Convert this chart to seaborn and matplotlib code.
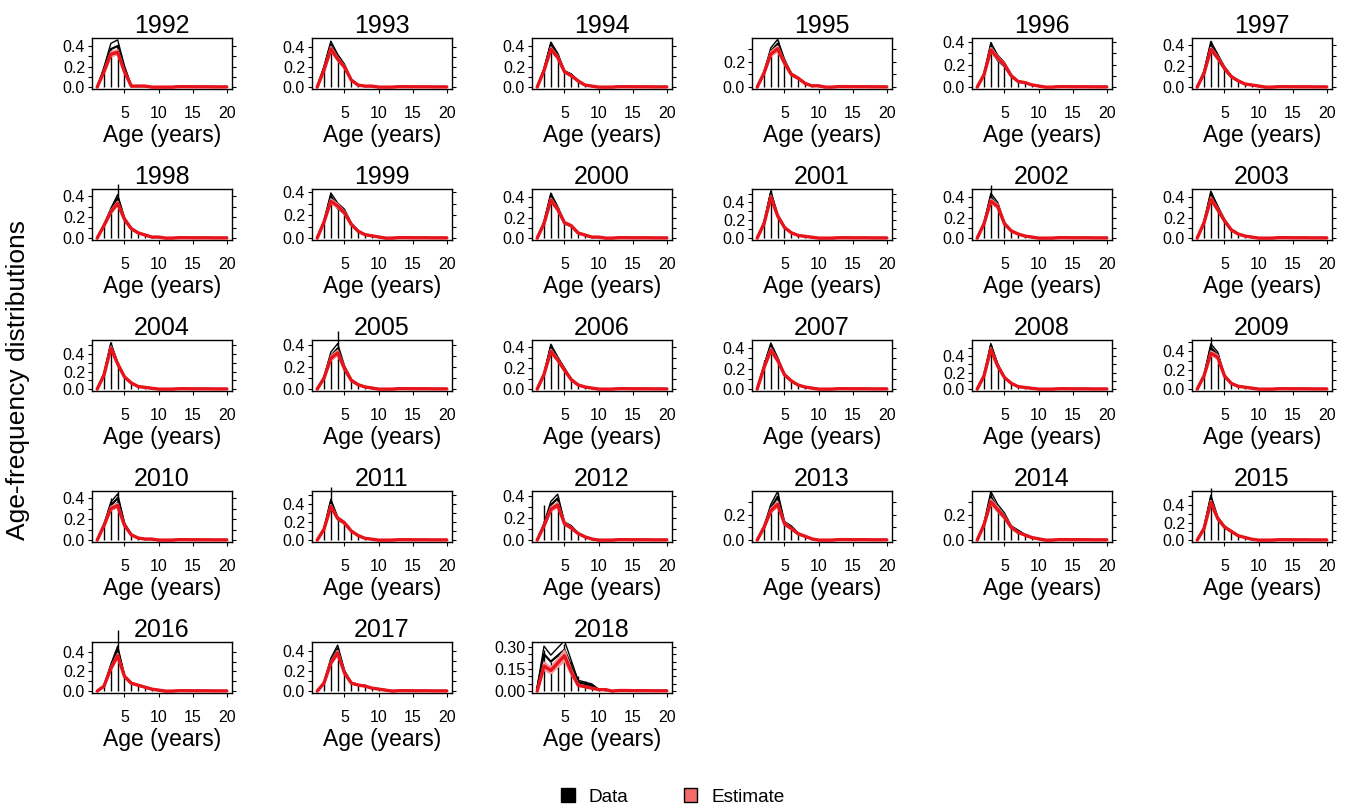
import numpy as np
import pandas as pd
import matplotlib
matplotlib.use("Agg")
import matplotlib.pyplot as plt
from matplotlib.patches import Patch
from matplotlib.ticker import MultipleLocator, FuncFormatter
import seaborn as sns

# -----------------------------------------------------
# Data (proportion at age, ages 1-12; ages 13-20 share a tiny tail)
# -----------------------------------------------------
years = list(range(1992, 2019))
ages = np.arange(1, 21)
tail = [0.004, 0.004, 0.003, 0.003, 0.003, 0.002, 0.002, 0.002]

# observed proportions (vertical bars)
obs_bars = [
    [0.00, 0.15, 0.36, 0.42, 0.20, 0.03, 0.02, 0.02, 0.01, 0.01, 0.00, 0.00],  # 1992
    [0.00, 0.20, 0.44, 0.30, 0.22, 0.08, 0.02, 0.01, 0.01, 0.00, 0.00, 0.00],  # 1993
    [0.00, 0.18, 0.44, 0.32, 0.15, 0.13, 0.07, 0.03, 0.01, 0.00, 0.00, 0.00],  # 1994
    [0.00, 0.12, 0.30, 0.37, 0.22, 0.10, 0.08, 0.04, 0.01, 0.01, 0.00, 0.00],  # 1995
    [0.00, 0.12, 0.40, 0.27, 0.20, 0.11, 0.05, 0.05, 0.03, 0.01, 0.00, 0.00],  # 1996
    [0.00, 0.15, 0.44, 0.30, 0.18, 0.10, 0.07, 0.04, 0.02, 0.01, 0.00, 0.00],  # 1997
    [0.00, 0.12, 0.26, 0.52, 0.18, 0.09, 0.06, 0.03, 0.02, 0.01, 0.00, 0.00],  # 1998
    [0.00, 0.15, 0.38, 0.28, 0.24, 0.13, 0.07, 0.03, 0.02, 0.01, 0.00, 0.00],  # 1999
    [0.00, 0.16, 0.44, 0.30, 0.15, 0.13, 0.06, 0.03, 0.01, 0.01, 0.00, 0.00],  # 2000
    [0.00, 0.18, 0.54, 0.25, 0.12, 0.06, 0.04, 0.02, 0.01, 0.00, 0.00, 0.00],  # 2001
    [0.00, 0.15, 0.52, 0.33, 0.15, 0.07, 0.04, 0.02, 0.01, 0.00, 0.00, 0.00],  # 2002
    [0.00, 0.16, 0.45, 0.30, 0.18, 0.08, 0.04, 0.02, 0.01, 0.00, 0.00, 0.00],  # 2003
    [0.00, 0.18, 0.54, 0.30, 0.15, 0.07, 0.03, 0.02, 0.01, 0.00, 0.00, 0.00],  # 2004
    [0.00, 0.10, 0.30, 0.53, 0.20, 0.08, 0.04, 0.02, 0.01, 0.00, 0.00, 0.00],  # 2005
    [0.00, 0.15, 0.43, 0.30, 0.20, 0.10, 0.04, 0.02, 0.01, 0.00, 0.00, 0.00],  # 2006
    [0.00, 0.28, 0.44, 0.30, 0.15, 0.09, 0.05, 0.02, 0.01, 0.00, 0.00, 0.00],  # 2007
    [0.00, 0.17, 0.55, 0.30, 0.15, 0.07, 0.03, 0.02, 0.01, 0.00, 0.00, 0.00],  # 2008
    [0.00, 0.15, 0.55, 0.38, 0.15, 0.06, 0.03, 0.02, 0.01, 0.00, 0.00, 0.00],  # 2009
    [0.00, 0.15, 0.40, 0.47, 0.15, 0.05, 0.02, 0.01, 0.01, 0.00, 0.00, 0.00],  # 2010
    [0.00, 0.12, 0.58, 0.25, 0.20, 0.10, 0.05, 0.02, 0.01, 0.00, 0.00, 0.00],  # 2011
    [0.00, 0.32, 0.33, 0.40, 0.15, 0.12, 0.07, 0.03, 0.01, 0.00, 0.00, 0.00],  # 2012
    [0.00, 0.10, 0.26, 0.37, 0.13, 0.10, 0.06, 0.03, 0.01, 0.00, 0.00, 0.00],  # 2013
    [0.00, 0.12, 0.37, 0.25, 0.20, 0.10, 0.07, 0.05, 0.02, 0.01, 0.00, 0.00],  # 2014
    [0.00, 0.15, 0.60, 0.25, 0.15, 0.10, 0.05, 0.03, 0.01, 0.00, 0.00, 0.00],  # 2015
    [0.00, 0.05, 0.25, 0.62, 0.15, 0.08, 0.07, 0.04, 0.02, 0.01, 0.00, 0.00],  # 2016
    [0.00, 0.08, 0.30, 0.44, 0.20, 0.08, 0.06, 0.07, 0.04, 0.02, 0.01, 0.00],  # 2017
    [0.00, 0.28, 0.20, 0.25, 0.32, 0.20, 0.10, 0.07, 0.05, 0.02, 0.01, 0.00],  # 2018
]

# data median line (black)
data_med = [
    [0.00, 0.17, 0.37, 0.40, 0.18, 0.01, 0.01, 0.01, 0.00, 0.00, 0.00, 0.00],
    [0.00, 0.19, 0.42, 0.30, 0.21, 0.07, 0.02, 0.01, 0.01, 0.00, 0.00, 0.00],
    [0.00, 0.17, 0.41, 0.31, 0.15, 0.12, 0.06, 0.02, 0.01, 0.00, 0.00, 0.00],
    [0.00, 0.11, 0.28, 0.34, 0.20, 0.10, 0.07, 0.03, 0.01, 0.01, 0.00, 0.00],
    [0.00, 0.11, 0.36, 0.26, 0.20, 0.10, 0.05, 0.04, 0.02, 0.01, 0.00, 0.00],
    [0.00, 0.14, 0.40, 0.29, 0.18, 0.10, 0.06, 0.03, 0.02, 0.01, 0.00, 0.00],
    [0.00, 0.12, 0.26, 0.38, 0.18, 0.09, 0.05, 0.03, 0.01, 0.01, 0.00, 0.00],
    [0.00, 0.14, 0.36, 0.28, 0.23, 0.12, 0.06, 0.03, 0.02, 0.01, 0.00, 0.00],
    [0.00, 0.15, 0.41, 0.29, 0.15, 0.12, 0.05, 0.03, 0.01, 0.01, 0.00, 0.00],
    [0.00, 0.17, 0.50, 0.25, 0.12, 0.06, 0.03, 0.02, 0.01, 0.00, 0.00, 0.00],
    [0.00, 0.14, 0.40, 0.32, 0.14, 0.07, 0.04, 0.02, 0.01, 0.00, 0.00, 0.00],
    [0.00, 0.15, 0.42, 0.29, 0.17, 0.08, 0.04, 0.02, 0.01, 0.00, 0.00, 0.00],
    [0.00, 0.17, 0.50, 0.29, 0.14, 0.07, 0.03, 0.02, 0.01, 0.00, 0.00, 0.00],
    [0.00, 0.10, 0.30, 0.37, 0.19, 0.08, 0.04, 0.02, 0.01, 0.00, 0.00, 0.00],
    [0.00, 0.14, 0.40, 0.29, 0.19, 0.09, 0.04, 0.02, 0.01, 0.00, 0.00, 0.00],
    [0.00, 0.22, 0.42, 0.29, 0.14, 0.08, 0.04, 0.02, 0.01, 0.00, 0.00, 0.00],
    [0.00, 0.16, 0.52, 0.29, 0.14, 0.07, 0.03, 0.02, 0.01, 0.00, 0.00, 0.00],
    [0.00, 0.14, 0.44, 0.36, 0.14, 0.06, 0.03, 0.02, 0.01, 0.00, 0.00, 0.00],
    [0.00, 0.14, 0.33, 0.40, 0.15, 0.05, 0.02, 0.01, 0.01, 0.00, 0.00, 0.00],
    [0.00, 0.12, 0.42, 0.24, 0.19, 0.10, 0.05, 0.02, 0.01, 0.00, 0.00, 0.00],
    [0.00, 0.14, 0.32, 0.38, 0.15, 0.12, 0.06, 0.03, 0.01, 0.00, 0.00, 0.00],
    [0.00, 0.10, 0.25, 0.34, 0.13, 0.10, 0.05, 0.03, 0.01, 0.00, 0.00, 0.00],
    [0.00, 0.12, 0.34, 0.25, 0.19, 0.10, 0.07, 0.04, 0.02, 0.01, 0.00, 0.00],
    [0.00, 0.14, 0.48, 0.25, 0.15, 0.10, 0.05, 0.03, 0.01, 0.00, 0.00, 0.00],
    [0.00, 0.05, 0.25, 0.42, 0.15, 0.08, 0.06, 0.04, 0.02, 0.01, 0.00, 0.00],
    [0.00, 0.08, 0.30, 0.42, 0.19, 0.08, 0.06, 0.05, 0.03, 0.02, 0.01, 0.00],
    [0.02, 0.25, 0.20, 0.24, 0.28, 0.17, 0.06, 0.05, 0.04, 0.01, 0.01, 0.00],
]

# model estimate (red)
est_med = [
    [0.00, 0.15, 0.32, 0.34, 0.15, 0.01, 0.01, 0.01, 0.00, 0.00, 0.00, 0.00],
    [0.00, 0.17, 0.38, 0.28, 0.20, 0.07, 0.02, 0.01, 0.01, 0.00, 0.00, 0.00],
    [0.00, 0.16, 0.37, 0.29, 0.15, 0.11, 0.06, 0.02, 0.01, 0.00, 0.00, 0.00],
    [0.00, 0.11, 0.26, 0.30, 0.19, 0.10, 0.07, 0.03, 0.01, 0.01, 0.00, 0.00],
    [0.00, 0.11, 0.33, 0.26, 0.20, 0.10, 0.05, 0.04, 0.02, 0.01, 0.00, 0.00],
    [0.00, 0.13, 0.36, 0.28, 0.18, 0.10, 0.06, 0.03, 0.02, 0.01, 0.00, 0.00],
    [0.00, 0.12, 0.25, 0.33, 0.18, 0.09, 0.05, 0.03, 0.01, 0.01, 0.00, 0.00],
    [0.00, 0.14, 0.32, 0.28, 0.22, 0.12, 0.06, 0.03, 0.02, 0.01, 0.00, 0.00],
    [0.00, 0.14, 0.37, 0.28, 0.15, 0.12, 0.05, 0.03, 0.01, 0.01, 0.00, 0.00],
    [0.00, 0.16, 0.46, 0.25, 0.12, 0.06, 0.03, 0.02, 0.01, 0.00, 0.00, 0.00],
    [0.00, 0.14, 0.36, 0.31, 0.14, 0.07, 0.04, 0.02, 0.01, 0.00, 0.00, 0.00],
    [0.00, 0.15, 0.38, 0.28, 0.17, 0.08, 0.04, 0.02, 0.01, 0.00, 0.00, 0.00],
    [0.00, 0.16, 0.47, 0.29, 0.14, 0.07, 0.03, 0.02, 0.01, 0.00, 0.00, 0.00],
    [0.00, 0.10, 0.28, 0.33, 0.19, 0.08, 0.04, 0.02, 0.01, 0.00, 0.00, 0.00],
    [0.00, 0.14, 0.36, 0.28, 0.18, 0.09, 0.04, 0.02, 0.01, 0.00, 0.00, 0.00],
    [0.00, 0.21, 0.38, 0.28, 0.14, 0.08, 0.04, 0.02, 0.01, 0.00, 0.00, 0.00],
    [0.00, 0.16, 0.48, 0.28, 0.14, 0.07, 0.03, 0.02, 0.01, 0.00, 0.00, 0.00],
    [0.00, 0.14, 0.38, 0.34, 0.14, 0.06, 0.03, 0.02, 0.01, 0.00, 0.00, 0.00],
    [0.00, 0.14, 0.30, 0.33, 0.14, 0.05, 0.02, 0.01, 0.01, 0.00, 0.00, 0.00],
    [0.00, 0.12, 0.37, 0.24, 0.19, 0.10, 0.05, 0.02, 0.01, 0.00, 0.00, 0.00],
    [0.00, 0.13, 0.28, 0.32, 0.15, 0.11, 0.06, 0.03, 0.01, 0.00, 0.00, 0.00],
    [0.00, 0.10, 0.23, 0.28, 0.13, 0.09, 0.05, 0.03, 0.01, 0.00, 0.00, 0.00],
    [0.00, 0.12, 0.30, 0.24, 0.18, 0.10, 0.06, 0.04, 0.02, 0.01, 0.00, 0.00],
    [0.00, 0.13, 0.43, 0.25, 0.15, 0.10, 0.05, 0.03, 0.01, 0.00, 0.00, 0.00],
    [0.00, 0.05, 0.23, 0.36, 0.15, 0.08, 0.06, 0.04, 0.02, 0.01, 0.00, 0.00],
    [0.00, 0.08, 0.28, 0.38, 0.18, 0.08, 0.06, 0.05, 0.03, 0.02, 0.01, 0.00],
    [0.00, 0.17, 0.14, 0.19, 0.24, 0.13, 0.04, 0.03, 0.02, 0.01, 0.01, 0.00],
]

# relative half-widths of the credible bands
data_band = [0.15, 0.09, 0.07, 0.10, 0.10, 0.09, 0.09, 0.09, 0.07, 0.06, 0.09, 0.09, 0.06, 0.12,
             0.07, 0.07, 0.06, 0.09, 0.10, 0.07, 0.10, 0.12, 0.12, 0.07, 0.09, 0.09, 0.22]
est_band = [0.07, 0.06, 0.05, 0.07, 0.06, 0.05, 0.06, 0.06, 0.05, 0.04, 0.06, 0.05, 0.04, 0.07,
            0.05, 0.05, 0.04, 0.06, 0.06, 0.05, 0.07, 0.07, 0.07, 0.05, 0.06, 0.06, 0.15]

# upper end of each panel's y range
y_top = [0.46, 0.47, 0.46, 0.37, 0.42, 0.45, 0.45, 0.41, 0.46, 0.53, 0.46, 0.46, 0.54, 0.43,
         0.45, 0.46, 0.57, 0.50, 0.45, 0.52, 0.43, 0.37, 0.37, 0.54, 0.48, 0.47, 0.32]

# -----------------------------------------------------
# Plot
# -----------------------------------------------------
sns.set_theme(style="ticks")
plt.rcParams["font.family"] = ["Liberation Sans", "DejaVu Sans"]
plt.rcParams["text.color"] = "black"
plt.rcParams["axes.labelcolor"] = "black"

W, H = 1346, 805
fig = plt.figure(figsize=(W / 100, H / 100), dpi=100)

col_left = [92, 312, 532, 752, 972, 1192]
row_top = [38, 189, 340, 491, 642]
aw, ah = 140, 51

red = "#E8141B"
pink = "#F49A9A"

for i, yr in enumerate(years):
    r, c = divmod(i, 6)
    ax = fig.add_axes([col_left[c] / W, 1 - (row_top[r] + ah) / H, aw / W, ah / H])

    bars = np.array(obs_bars[i] + tail)
    dmed = np.array(data_med[i] + tail)
    emed = np.array(est_med[i] + tail)
    df = pd.DataFrame({"age": ages, "bars": bars, "dmed": dmed,
                       "dlo": dmed * (1 - data_band[i]), "dhi": dmed * (1 + data_band[i]),
                       "emed": emed,
                       "elo": emed * (1 - est_band[i]), "ehi": emed * (1 + est_band[i])})

    ax.vlines(df["age"], 0, df["bars"], color="black", lw=1.0, clip_on=False, zorder=2)
    sns.lineplot(data=df, x="age", y="dlo", color="black", lw=1.0, ax=ax, zorder=3)
    sns.lineplot(data=df, x="age", y="dhi", color="black", lw=1.0, ax=ax, zorder=3)
    sns.lineplot(data=df, x="age", y="dmed", color="black", lw=1.6, ax=ax, zorder=3)
    ax.fill_between(df["age"], df["elo"], df["ehi"], color=pink, lw=0, zorder=4)
    sns.lineplot(data=df, x="age", y="elo", color=pink, lw=1.3, ax=ax, zorder=4)
    sns.lineplot(data=df, x="age", y="ehi", color=pink, lw=1.3, ax=ax, zorder=4)
    sns.lineplot(data=df, x="age", y="emed", color=red, lw=2.4, ax=ax, zorder=5)

    m = y_top[i]
    ax.set_xlim(0.24, 20.76)
    ax.set_ylim(-0.04 * m, 1.04 * m)

    step = 0.05 if m < 0.35 else 0.1
    every = 3 if m < 0.35 else 2
    fmt = "{:.2f}" if m < 0.35 else "{:.1f}"
    ax.yaxis.set_major_locator(MultipleLocator(step))
    ax.yaxis.set_major_formatter(FuncFormatter(
        lambda v, p, s=step, e=every, f=fmt: f.format(abs(v)) if round(v / s) % e == 0 else ""))
    ax.set_xticks([5, 10, 15, 20])

    ax.tick_params(axis="y", which="both", left=True, right=True, labelleft=True,
                   length=3, width=0.8, pad=2, labelsize=11.5, colors="black")
    ax.tick_params(axis="x", length=3, width=0.8, pad=9.5, labelsize=11.5, colors="black")
    for s in ax.spines.values():
        s.set_visible(True)
        s.set_color("black")
        s.set_linewidth(1.0)

    ax.set_title(str(yr), fontsize=18, pad=3, color="black")
    ax.set_xlabel("Age (years)", fontsize=16.5, labelpad=2, color="black")
    ax.set_ylabel("")

fig.text(18 / W, 1 - 380 / H, "Age-frequency distributions", rotation=90,
         ha="center", va="center", fontsize=19, color="black")

handles = [Patch(facecolor="black", edgecolor="black"),
           Patch(facecolor="#F26B6B", edgecolor="black")]
fig.legend(handles, ["Data", "Estimate"], loc="lower center", ncol=2, frameon=False,
           bbox_to_anchor=(0.5, -0.022), fontsize=13.7, handlelength=0.7, handleheight=0.7,
           columnspacing=2.9, handletextpad=0.75)

fig.savefig("out.png", dpi=100)
